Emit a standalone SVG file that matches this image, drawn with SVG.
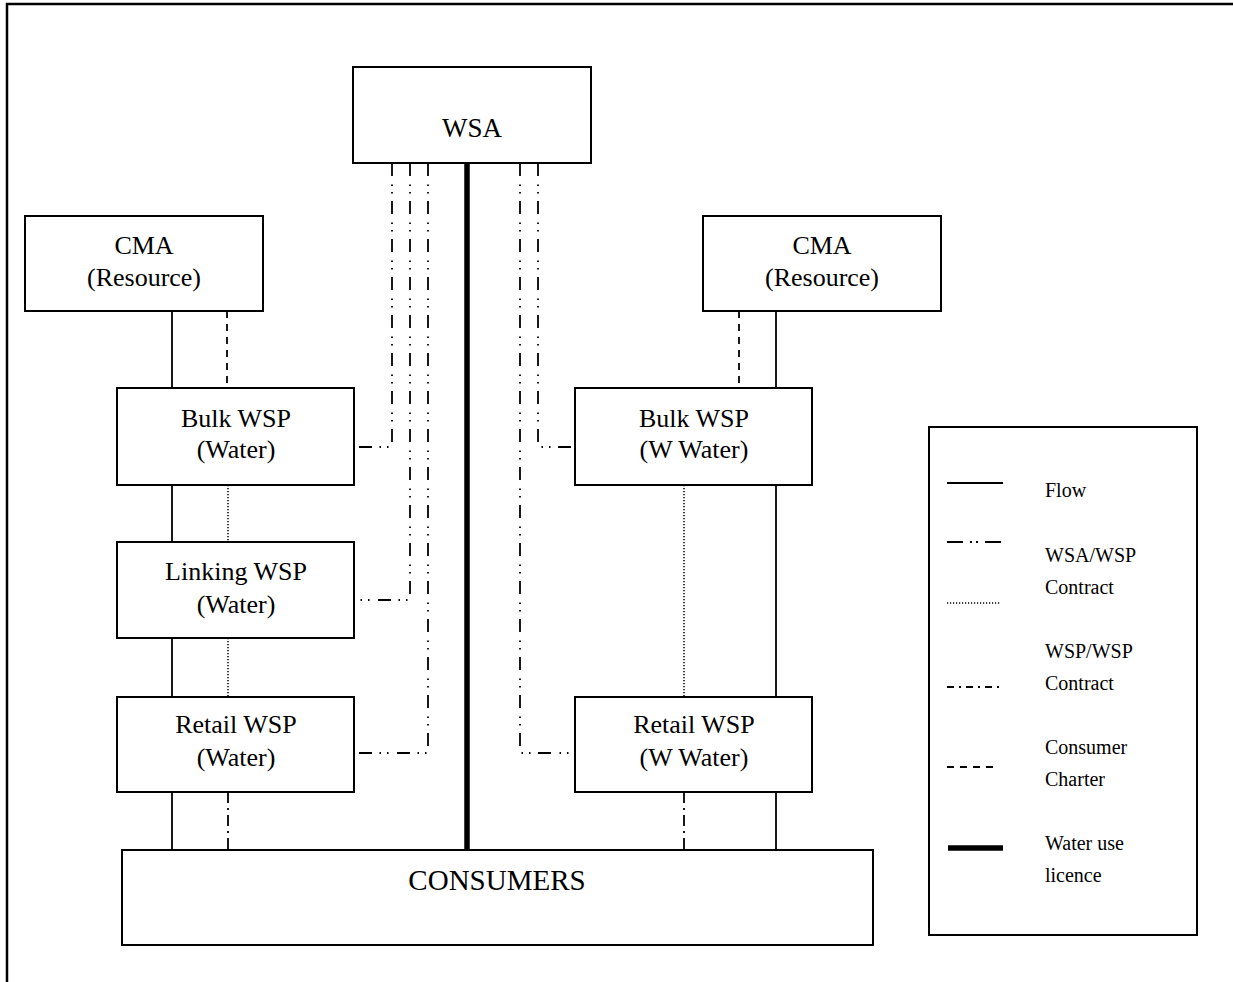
<svg xmlns="http://www.w3.org/2000/svg" width="1233" height="982" viewBox="0 0 1233 982">
<style>
.box{fill:#fff;stroke:#000;stroke-width:2}
.lbl{font-family:"Liberation Serif","Times New Roman",serif;font-size:26px;fill:#000;text-anchor:middle}
.leg{font-family:"Liberation Serif","Times New Roman",serif;font-size:20px;fill:#000}
.flow{stroke:#000;stroke-width:1.8;fill:none}
.wsa{stroke:#000;stroke-width:1.8;fill:none;stroke-dasharray:13 8.5 1.5 6 1.5 7.5}
.dot{stroke:#000;stroke-width:1.5;fill:none;stroke-dasharray:1.2 1.8}
.dd{stroke:#000;stroke-width:1.8;fill:none;stroke-dasharray:11 5 2 5}
.dash{stroke:#000;stroke-width:1.8;fill:none;stroke-dasharray:7 6}
.thick{stroke:#000;stroke-width:5.5;fill:none}
</style>
<rect width="1233" height="982" fill="#fff"/>
<path d="M7,982 V4 H1233" fill="none" stroke="#000" stroke-width="2.5"/>

<g id="connectors">
  <line class="flow" x1="172" y1="311" x2="172" y2="388"/>
  <line class="dash" x1="227" y1="311" x2="227" y2="388"/>
  <line class="flow" x1="172" y1="485" x2="172" y2="542"/>
  <line class="dot" x1="228" y1="485" x2="228" y2="542"/>
  <line class="flow" x1="172" y1="638" x2="172" y2="697"/>
  <line class="dot" x1="228" y1="638" x2="228" y2="697"/>
  <line class="flow" x1="172" y1="792" x2="172" y2="850"/>
  <line class="dd" x1="228" y1="792" x2="228" y2="850"/>
  <line class="dash" x1="739" y1="311" x2="739" y2="388"/>
  <line class="flow" x1="776" y1="311" x2="776" y2="388"/>
  <line class="dot" x1="684" y1="485" x2="684" y2="697"/>
  <line class="flow" x1="776" y1="485" x2="776" y2="697"/>
  <line class="dd" x1="684" y1="792" x2="684" y2="850"/>
  <line class="flow" x1="776" y1="792" x2="776" y2="850"/>
  <line class="thick" x1="467" y1="163" x2="467" y2="850"/>
  <path class="wsa" d="M392,163 V447 H354"/>
  <path class="wsa" d="M410,163 V600 H354"/>
  <path class="wsa" d="M428,163 V753 H354"/>
  <path class="wsa" d="M538,163 V447 H575"/>
  <path class="wsa" d="M520,163 V753 H575"/>
</g>

<g id="wsa">
  <rect class="box" x="353" y="67" width="238" height="96"/>
  <text class="lbl" x="472" y="137" style="font-size:27px">WSA</text>
</g>
<g id="cma-left">
  <rect class="box" x="25" y="216" width="238" height="95"/>
  <text class="lbl" x="144" y="254">CMA</text>
  <text class="lbl" x="144" y="286">(Resource)</text>
</g>
<g id="cma-right">
  <rect class="box" x="703" y="216" width="238" height="95"/>
  <text class="lbl" x="822" y="254">CMA</text>
  <text class="lbl" x="822" y="286">(Resource)</text>
</g>
<g id="bulk-left">
  <rect class="box" x="117" y="388" width="237" height="97"/>
  <text class="lbl" x="236" y="427">Bulk WSP</text>
  <text class="lbl" x="236" y="458">(Water)</text>
</g>
<g id="linking">
  <rect class="box" x="117" y="542" width="237" height="96"/>
  <text class="lbl" x="236" y="580">Linking WSP</text>
  <text class="lbl" x="236" y="613">(Water)</text>
</g>
<g id="retail-left">
  <rect class="box" x="117" y="697" width="237" height="95"/>
  <text class="lbl" x="236" y="733">Retail WSP</text>
  <text class="lbl" x="236" y="766">(Water)</text>
</g>
<g id="bulk-right">
  <rect class="box" x="575" y="388" width="237" height="97"/>
  <text class="lbl" x="694" y="427">Bulk WSP</text>
  <text class="lbl" x="694" y="458">(W Water)</text>
</g>
<g id="retail-right">
  <rect class="box" x="575" y="697" width="237" height="95"/>
  <text class="lbl" x="694" y="733">Retail WSP</text>
  <text class="lbl" x="694" y="766">(W Water)</text>
</g>
<g id="consumers">
  <rect class="box" x="122" y="850" width="751" height="95"/>
  <text class="lbl" x="497" y="890" style="font-size:29px">CONSUMERS</text>
</g>

<g id="legend">
  <rect class="box" x="929" y="427" width="268" height="508"/>
  <line class="flow" x1="947" y1="483" x2="1003" y2="483"/>
  <text class="leg" x="1045" y="497">Flow</text>
  <line stroke="#000" stroke-width="1.8" stroke-dasharray="16 7 2 4 2 7 16 100" x1="947" y1="542" x2="1001" y2="542"/>
  <text class="leg" x="1045" y="562">WSA/WSP</text>
  <text class="leg" x="1045" y="594">Contract</text>
  <line class="dot" x1="947" y1="603" x2="1001" y2="603"/>
  <text class="leg" x="1045" y="658">WSP/WSP</text>
  <text class="leg" x="1045" y="690">Contract</text>
  <line stroke="#000" stroke-width="1.8" stroke-dasharray="7 5 2 5" x1="947" y1="687" x2="1000" y2="687"/>
  <text class="leg" x="1045" y="754">Consumer</text>
  <text class="leg" x="1045" y="786">Charter</text>
  <line class="dash" x1="947" y1="767" x2="998" y2="767"/>
  <text class="leg" x="1045" y="850">Water use</text>
  <text class="leg" x="1045" y="882">licence</text>
  <line class="thick" x1="948" y1="848" x2="1003" y2="848"/>
</g>
</svg>
